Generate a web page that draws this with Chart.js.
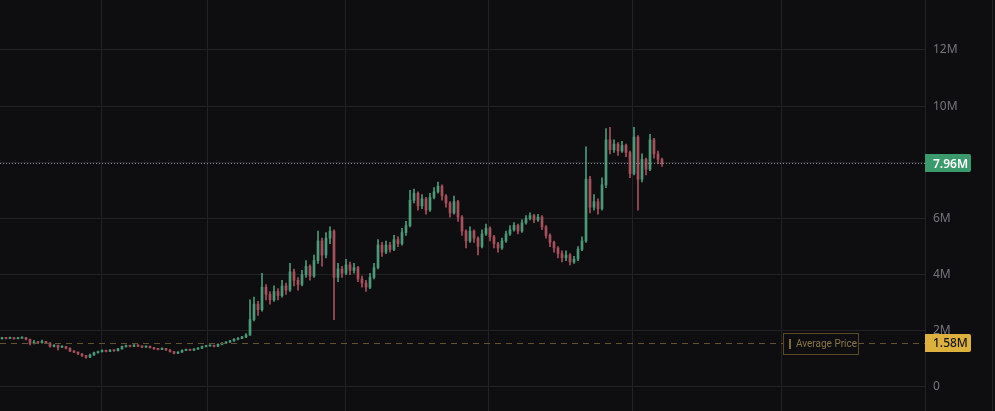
<!DOCTYPE html>
<html>
<head>
<meta charset="utf-8">
<script src="https://cdn.jsdelivr.net/npm/chart.js@4.4.1/dist/chart.umd.min.js"></script>
<style>
  html, body { margin: 0; padding: 0; background: #0e0e11; }
  #wrap { width: 995px; height: 411px; position: relative; }
</style>
</head>
<body>
<div id="wrap"><canvas id="chart"></canvas></div>
<script>
// closes, highs, lows in millions, one per candle
const closes = [
  1.74, 1.73, 1.75, 1.72, 1.74, 1.76, 1.70, 1.55, 1.60, 1.58,
  1.62, 1.57, 1.45, 1.48, 1.42, 1.44, 1.38, 1.28, 1.24, 1.18,
  1.12, 1.06, 1.14, 1.22, 1.26, 1.30, 1.27, 1.31, 1.29, 1.36,
  1.44, 1.47, 1.45, 1.49, 1.46, 1.42, 1.45, 1.40, 1.36, 1.34,
  1.37, 1.32, 1.26, 1.20, 1.24, 1.30, 1.33, 1.31, 1.35, 1.38,
  1.44, 1.46, 1.48, 1.45, 1.52, 1.56, 1.60, 1.64, 1.70, 1.73,
  1.78, 1.85, 2.40, 2.95, 2.75, 3.55, 3.30, 3.10, 3.40, 3.25,
  3.60, 3.45, 4.10, 3.80, 3.65, 4.00, 4.30, 3.95, 4.50, 5.20,
  4.70, 5.30, 5.55, 3.90, 4.20, 4.05, 4.35, 4.15, 4.25, 3.85,
  3.70, 3.55, 3.90, 4.25, 5.05, 4.80, 5.05, 4.90, 5.25, 5.10,
  5.50, 5.75, 6.65, 6.90, 6.45, 6.70, 6.30, 6.75, 6.95, 7.15,
  6.80, 6.55, 6.20, 6.60, 6.05, 5.55, 5.20, 5.55, 5.30, 5.00,
  5.45, 5.65, 5.35, 5.10, 4.95, 5.20, 5.45, 5.60, 5.75, 5.55,
  5.85, 6.00, 6.10, 5.95, 6.05, 5.70, 5.40, 5.15, 4.95, 4.75,
  4.60, 4.70, 4.45, 4.55, 4.90, 5.20, 7.40, 6.40, 6.60, 6.35,
  7.20, 8.80, 8.45, 8.65, 8.40, 8.60, 8.35, 7.60, 8.90, 7.40,
  8.10, 7.75, 8.80, 8.30, 8.10, 7.96
];
const highs = [
  1.77, 1.76, 1.78, 1.76, 1.76, 1.79, 1.77, 1.71, 1.66, 1.62,
  1.67, 1.63, 1.58, 1.51, 1.49, 1.47, 1.45, 1.39, 1.30, 1.25,
  1.19, 1.13, 1.17, 1.24, 1.28, 1.32, 1.31, 1.33, 1.32, 1.38,
  1.46, 1.49, 1.48, 1.51, 1.50, 1.47, 1.47, 1.46, 1.41, 1.37,
  1.39, 1.38, 1.33, 1.27, 1.26, 1.32, 1.35, 1.34, 1.37, 1.40,
  1.46, 1.48, 1.50, 1.49, 1.54, 1.58, 1.62, 1.66, 1.72, 1.76,
  1.80, 1.90, 3.10, 3.20, 3.05, 4.05, 3.65, 3.40, 3.60, 3.50,
  3.80, 3.70, 4.40, 4.20, 3.90, 4.15, 4.50, 4.35, 4.70, 5.55,
  5.30, 5.50, 5.70, 5.60, 4.40, 4.30, 4.55, 4.45, 4.40, 4.30,
  3.95, 3.80, 4.05, 4.40, 5.25, 5.15, 5.20, 5.15, 5.40, 5.35,
  5.65, 5.90, 7.00, 7.05, 6.95, 6.85, 6.75, 6.90, 7.10, 7.30,
  7.20, 6.85, 6.60, 6.80, 6.65, 6.10, 5.60, 5.70, 5.60, 5.35,
  5.60, 5.80, 5.70, 5.40, 5.15, 5.30, 5.55, 5.75, 5.85, 5.80,
  5.95, 6.10, 6.20, 6.15, 6.15, 6.10, 5.75, 5.45, 5.20, 5.00,
  4.85, 4.85, 4.75, 4.65, 5.00, 5.35, 8.55, 7.50, 6.85, 6.70,
  7.45, 9.20, 9.25, 8.80, 8.70, 8.75, 8.65, 8.40, 9.25, 8.95,
  8.30, 8.15, 9.00, 8.85, 8.40, 8.15
];
const lows = [
  1.70, 1.71, 1.72, 1.70, 1.71, 1.73, 1.68, 1.50, 1.53, 1.55,
  1.56, 1.54, 1.42, 1.43, 1.32, 1.40, 1.36, 1.26, 1.22, 1.15,
  1.08, 1.02, 1.04, 1.12, 1.20, 1.24, 1.25, 1.26, 1.27, 1.28,
  1.35, 1.42, 1.43, 1.44, 1.44, 1.40, 1.41, 1.38, 1.34, 1.32,
  1.33, 1.30, 1.24, 1.18, 1.19, 1.23, 1.29, 1.29, 1.30, 1.34,
  1.37, 1.43, 1.45, 1.43, 1.44, 1.50, 1.55, 1.59, 1.63, 1.68,
  1.72, 1.76, 1.84, 2.35, 2.55, 2.70, 3.10, 2.95, 3.05, 3.10,
  3.20, 3.30, 3.40, 3.60, 3.45, 3.60, 3.90, 3.80, 3.90, 4.40,
  4.30, 4.60, 5.10, 2.40, 3.75, 3.90, 4.00, 4.00, 4.05, 3.75,
  3.55, 3.40, 3.50, 3.85, 4.20, 4.65, 4.75, 4.80, 4.85, 5.00,
  5.05, 5.40, 5.70, 6.55, 6.30, 6.35, 6.15, 6.25, 6.70, 6.90,
  6.65, 6.40, 6.05, 6.15, 5.90, 5.40, 4.95, 5.15, 5.15, 4.70,
  4.95, 5.40, 5.20, 4.95, 4.80, 4.90, 5.15, 5.40, 5.55, 5.45,
  5.50, 5.80, 5.95, 5.85, 5.90, 5.60, 5.30, 5.00, 4.80, 4.60,
  4.45, 4.50, 4.35, 4.40, 4.50, 4.85, 5.15, 6.20, 6.30, 6.15,
  6.30, 7.10, 8.30, 8.35, 8.25, 8.35, 8.20, 7.45, 7.55, 6.30,
  7.30, 7.55, 7.70, 8.15, 7.95, 7.85
];
const firstOpen = 1.72;

// price axis labels (millions) and time grid positions (candle index)
const yTicks = [0, 2, 4, 6, 8, 10, 12];
const timeGrid = [24.75, 51.25, 85.75, 121.5, 157.5, 194.75];

const lastPrice = 7.96;
const averagePrice = 1.58;
const averageLabel = 'Average Price';

const M = 1e6;
const up = '#4b9a78';
const down = '#a9505c';
const gridColor = '#222226';

// open of each candle is the previous close
const opens = closes.map((c, i) => (i === 0 ? firstOpen : closes[i - 1]));
const colors = closes.map((c, i) => (c >= opens[i] ? up : down));

const wickData = closes.map((c, i) => ({ x: i, y: [lows[i] * M, highs[i] * M] }));
const bodyData = closes.map((c, i) => ({ x: i, y: [opens[i] * M, c * M] }));

function fmt(v) {
  return v === 0 ? '0' : (v / M) + 'M';
}

const overlay = {
  id: 'overlay',
  afterDatasetsDraw(chart) {
    const ctx = chart.ctx;
    const area = chart.chartArea;
    const y = chart.scales.y;
    ctx.save();

    // current price dotted line
    const yl = Math.round(y.getPixelForValue(lastPrice * M)) + 0.5;
    ctx.strokeStyle = '#8d8d95';
    ctx.lineWidth = 1;
    ctx.setLineDash([1, 2]);
    ctx.beginPath();
    ctx.moveTo(area.left, yl);
    ctx.lineTo(area.right, yl);
    ctx.stroke();

    // average price dashed line
    const ya = Math.round(y.getPixelForValue(averagePrice * M)) + 0.5;
    ctx.strokeStyle = '#65532f';
    ctx.setLineDash([6, 5]);
    ctx.beginPath();
    ctx.moveTo(area.left, ya);
    ctx.lineTo(area.right, ya);
    ctx.stroke();
    ctx.setLineDash([]);

    // "Average Price" tag
    const bw = 75, bh = 21;
    const bx = area.right - 67 - bw;
    const by = Math.round(ya - bh / 2);
    ctx.fillStyle = '#0e0e11';
    ctx.fillRect(bx, by, bw, bh);
    ctx.strokeStyle = '#5a4a25';
    ctx.strokeRect(bx + 0.5, by + 0.5, bw, bh);
    ctx.fillStyle = '#7d6b3c';
    ctx.fillRect(bx + 6, by + 6, 2, 10);
    ctx.font = '10px Roboto';
    ctx.fillStyle = '#8a7643';
    ctx.textBaseline = 'middle';
    ctx.textAlign = 'left';
    ctx.fillText(averageLabel, bx + 13, ya + 0.5);

    // price badges on the axis
    function badge(v, bg, fg, weight) {
      const py = y.getPixelForValue(v * M);
      const w = 46, h = 18;
      ctx.fillStyle = bg;
      ctx.beginPath();
      ctx.roundRect(area.right, Math.round(py - h / 2), w, h, [0, 2, 2, 0]);
      ctx.fill();
      ctx.fillStyle = fg;
      ctx.font = weight + ' 12px "Noto Sans"';
      ctx.textAlign = 'left';
      ctx.textBaseline = 'middle';
      ctx.fillText(v.toFixed(2) + 'M', area.right + 8, py + 1);
    }
    badge(lastPrice, '#3b9a6c', '#ffffff', '600');
    badge(averagePrice, '#dcb13d', '#151515', '500');

    // thin frame line at the far right
    ctx.fillStyle = gridColor;
    ctx.fillRect(chart.width - 3, 0, 1, chart.height);
    ctx.restore();
  }
};

new Chart(document.getElementById('chart'), {
  type: 'bar',
  data: {
    datasets: [
      {
        label: 'wick',
        data: wickData,
        backgroundColor: colors,
        barThickness: 1,
        grouped: false,
        borderWidth: 0
      },
      {
        label: 'body',
        data: bodyData,
        backgroundColor: colors,
        barThickness: 2,
        minBarLength: 1,
        grouped: false,
        borderWidth: 0
      }
    ]
  },
  options: {
    responsive: true,
    maintainAspectRatio: false,
    animation: false,
    layout: { padding: 0 },
    plugins: {
      legend: { display: false },
      tooltip: { enabled: false }
    },
    scales: {
      x: {
        type: 'linear',
        offset: false,
        min: -0.5,
        max: 230.75,
        afterBuildTicks: (s) => { s.ticks = timeGrid.map(v => ({ value: v })); },
        ticks: { display: false },
        grid: { color: gridColor, drawTicks: false, offset: false },
        border: { display: false }
      },
      y: {
        position: 'right',
        min: -0.855 * M,
        max: 13.78 * M,
        afterBuildTicks: (s) => { s.ticks = yTicks.map(v => ({ value: v * M })); },
        afterFit: (s) => { s.width = 70; s.paddingTop = 0; s.paddingBottom = 0; },
        ticks: {
          color: '#74747d',
          padding: 8,
          font: { family: '"Noto Sans"', size: 12 },
          callback: (v) => fmt(v)
        },
        grid: { color: gridColor, drawTicks: false },
        border: { display: true, color: gridColor }
      }
    }
  },
  plugins: [overlay]
});
</script>
</body>
</html>
